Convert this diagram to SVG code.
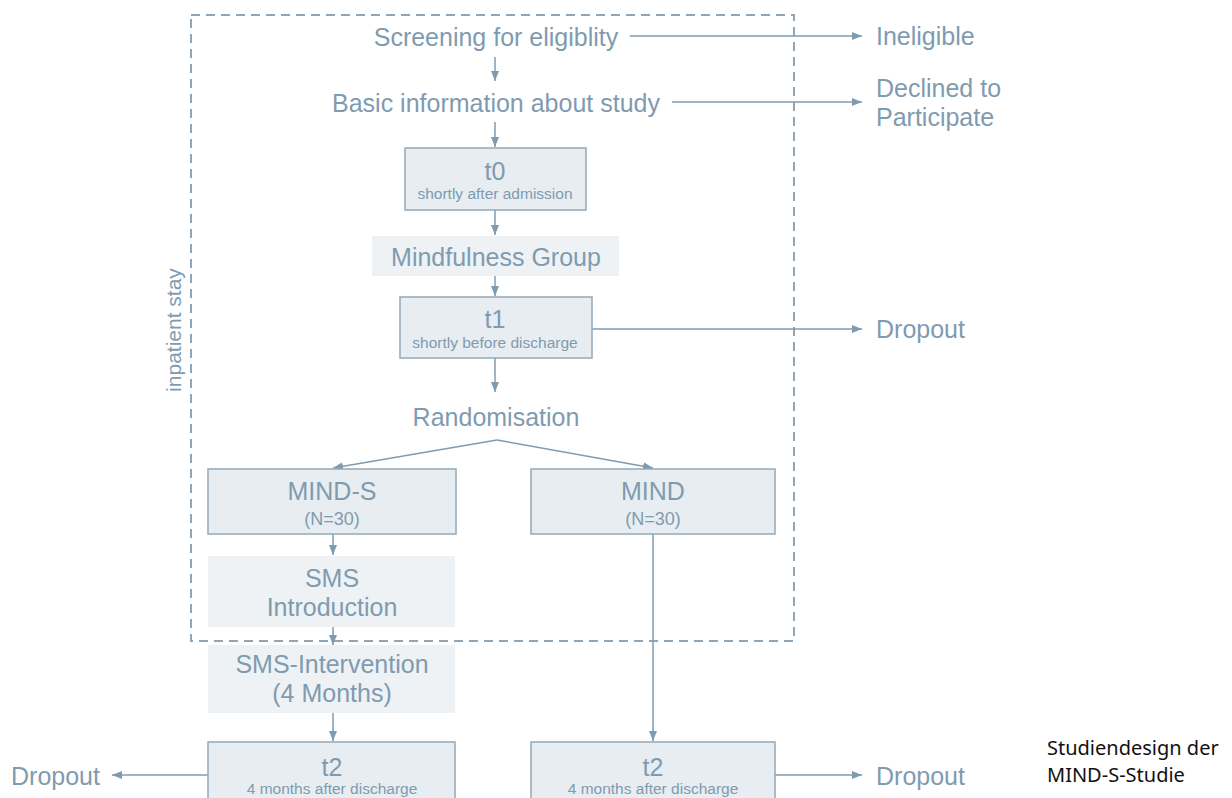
<svg xmlns="http://www.w3.org/2000/svg" width="1232" height="798" viewBox="0 0 1232 798">
<defs>
<marker id="ah" viewBox="0 0 10 10" refX="10" refY="5" markerWidth="10" markerHeight="10" markerUnits="userSpaceOnUse" orient="auto">
<path d="M0,1 L10,5 L0,9 Z" fill="#7f9bb0"/>
</marker>
<style>
.t{font-family:"Liberation Sans",Arial,sans-serif;fill:#7f9bb0;text-anchor:middle}
.big{font-size:25px}
.sm{font-size:15.5px}
.n{font-size:18px}
.lab{font-family:"Liberation Sans",Arial,sans-serif;fill:#7f9bb0;font-size:25px}
.box{fill:#e8edf1;stroke:#93a9ba;stroke-width:1.5}
.lt{fill:#eef2f5}
.c{stroke:#7f9bb0;stroke-width:1.5;fill:none;marker-end:url(#ah)}
.cp{font-family:"Noto Sans","DejaVu Sans",sans-serif;font-size:20px;fill:#111}
</style>
</defs>
<rect id="inpatient" x="191" y="15" width="603" height="626" fill="none" stroke="#8fa6b8" stroke-width="2" stroke-dasharray="9,6"/>
<text class="t" style="font-size:21px" transform="translate(181,330) rotate(-90)">inpatient stay</text>

<g id="connectors">
<line class="c" x1="495" y1="57" x2="495" y2="81"/>
<line class="c" x1="630" y1="36" x2="862" y2="36"/>
<line class="c" x1="495" y1="122" x2="495" y2="147"/>
<line class="c" x1="672" y1="102" x2="862" y2="102"/>
<line class="c" x1="495" y1="210" x2="495" y2="235"/>
<line class="c" x1="495" y1="276" x2="495" y2="296"/>
<line class="c" x1="592" y1="329" x2="862" y2="329"/>
<line class="c" x1="495" y1="358" x2="495" y2="392"/>
<line class="c" x1="497" y1="440" x2="333" y2="468"/>
<line class="c" x1="497" y1="440" x2="653" y2="468"/>
<line class="c" x1="333" y1="534" x2="333" y2="555"/>
<line class="c" x1="333" y1="627" x2="333" y2="645"/>
<line class="c" x1="333" y1="713" x2="333" y2="741"/>
<line class="c" x1="653" y1="534" x2="653" y2="741"/>
<line class="c" x1="208" y1="775" x2="112" y2="775"/>
<line class="c" x1="775" y1="775" x2="862" y2="775"/>
</g>

<g id="screening"><text class="t big" x="496" y="46">Screening for eligiblity</text></g>
<g id="ineligible"><text class="lab" x="876" y="45">Ineligible</text></g>
<g id="basic"><text class="t big" x="496" y="112">Basic information about study</text></g>
<g id="declined"><text class="lab" x="876" y="97">Declined to</text><text class="lab" x="876" y="126">Participate</text></g>
<g id="t0"><rect class="box" x="405" y="148" width="181" height="62"/><text class="t big" x="495" y="180">t0</text><text class="t sm" x="495" y="199">shortly after admission</text></g>
<g id="mindfulness"><rect class="lt" x="372" y="236" width="247" height="40"/><text class="t big" x="496" y="266">Mindfulness Group</text></g>
<g id="t1"><rect class="box" x="400" y="297" width="192" height="61"/><text class="t big" x="495" y="328">t1</text><text class="t sm" x="495" y="348">shortly before discharge</text></g>
<g id="dropout1"><text class="lab" x="876" y="338">Dropout</text></g>
<g id="randomisation"><text class="t big" x="496" y="426">Randomisation</text></g>
<g id="minds"><rect class="box" x="208" y="469" width="248" height="65"/><text class="t big" x="332" y="500">MIND-S</text><text class="t n" x="332" y="525">(N=30)</text></g>
<g id="mind"><rect class="box" x="531" y="469" width="244" height="65"/><text class="t big" x="653" y="500">MIND</text><text class="t n" x="653" y="525">(N=30)</text></g>
<g id="smsintro"><rect class="lt" x="208" y="556" width="247" height="71"/><text class="t big" x="332" y="587">SMS</text><text class="t big" x="332" y="616">Introduction</text></g>
<g id="smsint"><rect class="lt" x="208" y="645" width="247" height="68"/><text class="t big" x="332" y="673">SMS-Intervention</text><text class="t big" x="332" y="702">(4 Months)</text></g>
<g id="t2a"><rect class="box" x="208" y="742" width="247" height="70"/><text class="t big" x="332" y="776">t2</text><text class="t sm" x="332" y="794">4 months after discharge</text></g>
<g id="t2b"><rect class="box" x="531" y="742" width="244" height="70"/><text class="t big" x="653" y="776">t2</text><text class="t sm" x="653" y="794">4 months after discharge</text></g>
<g id="dropout2"><text class="lab" x="11" y="785">Dropout</text></g>
<g id="dropout3"><text class="lab" x="876" y="785">Dropout</text></g>
<g id="caption"><text class="cp" x="1047" y="755">Studiendesign der</text><text class="cp" x="1047" y="782">MIND-S-Studie</text></g>
</svg>
